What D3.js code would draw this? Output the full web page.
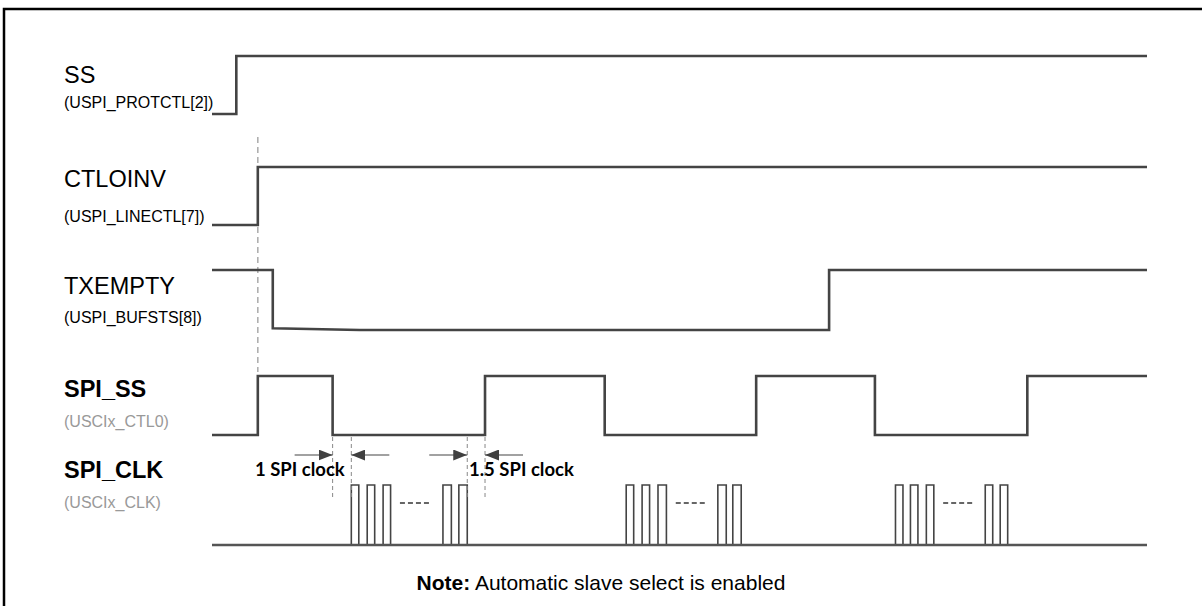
<!DOCTYPE html>
<meta charset="utf-8">
<script src="https://d3js.org/d3.v7.min.js"></script>
<style>
body { margin: 0; background: #fff; }
text { font-family: "Liberation Sans", Arial, sans-serif; }
</style>
<div id="my_dataviz"></div>
<script>

// signal names and register sub-labels
var names = ["SS", "CTLOINV", "TXEMPTY", "SPI_SS", "SPI_CLK"];
var subNames = ["(USPI_PROTCTL[2])", "(USPI_LINECTL[7])", "(USPI_BUFSTS[8])", "(USCIx_CTL0)", "(USCIx_CLK)"];

// waveform edges: [time, level], time on a 0..100 scale
var ssWave = [[0, 0], [2.6, 0], [2.6, 1], [100, 1]];
var ctlWave = [[0, 0], [4.9, 0], [4.9, 1], [100, 1]];
var txWave = [[0, 1], [6.5, 1], [6.5, 0.03], [15.8, 0], [66.0, 0], [66.0, 1], [100, 1]];
var spiSsWave = [[0, 0], [4.9, 0], [4.9, 1], [12.9, 1], [12.9, 0], [29.2, 0], [29.2, 1], [42.0, 1], [42.0, 0],
  [58.2, 0], [58.2, 1], [70.9, 1], [70.9, 0], [87.2, 0], [87.2, 1], [100, 1]];

// clock pulses: [rise, fall]
var clkPulses = [
  [14.9, 15.7], [16.6, 17.4], [18.3, 19.1], [24.7, 25.6], [26.4, 27.3],
  [44.3, 45.1], [46.0, 46.8], [47.7, 48.6], [54.1, 55.0], [55.7, 56.6],
  [73.1, 73.9], [74.7, 75.5], [76.4, 77.2], [82.7, 83.5], [84.3, 85.1]
];
// "----" gaps between pulses: [start, end]
var clkGaps = [[20.1, 23.3], [49.6, 52.9], [78.2, 81.4]];

// timing marks
var markTimes = [12.9, 14.9, 27.3, 29.2];
var markLabels = ["1 SPI clock", "1.5 SPI clock"];
var refTime = 4.9;

var noteBold = "Note:";
var noteText = " Automatic slave select is enabled";

var W = 1202, H = 606;
var svg = d3.select("#my_dataviz").append("svg")
  .attr("width", W).attr("height", H);

// frame
svg.append("rect")
  .attr("x", 4).attr("y", 9).attr("width", 1220).attr("height", 640)
  .attr("fill", "none").attr("stroke", "#000").attr("stroke-width", 2.5);

var x = d3.scaleLinear().domain([0, 100]).range([212, 1147]);

// row layout: low-level y and amplitude
var rowLow = [114, 225, 330, 435, 545];
var amp = [58, 58, 60, 59, 60];
var nameY = [83, 187, 294, 397, 478];
var subY = [108, 222, 323, 427, 508];

function yRow(i) {
  return d3.scaleLinear().domain([0, 1]).range([rowLow[i], rowLow[i] - amp[i]]);
}

// labels
names.forEach(function(n, i) {
  var bold = i >= 3;
  svg.append("text")
    .attr("x", 64).attr("y", nameY[i])
    .style("font-size", "23.5px")
    .style("font-weight", bold ? "bold" : "normal")
    .attr("fill", "#000")
    .text(n);
  svg.append("text")
    .attr("x", 64).attr("y", subY[i])
    .style("font-size", "16px")
    .attr("fill", bold ? "#999" : "#000")
    .text(subNames[i]);
});

// reference dashed line
svg.append("line")
  .attr("x1", x(refTime)).attr("x2", x(refTime))
  .attr("y1", 137).attr("y2", 372)
  .attr("stroke", "#aaa").attr("stroke-width", 1.5)
  .attr("stroke-dasharray", "6,4");

var waves = [ssWave, ctlWave, txWave, spiSsWave];
waves.forEach(function(w, i) {
  var y = yRow(i);
  var line = d3.line()
    .x(function(d) { return x(d[0]); })
    .y(function(d) { return y(d[1]); });
  svg.append("path")
    .datum(w)
    .attr("d", line)
    .attr("fill", "none")
    .attr("stroke", "#444")
    .attr("stroke-width", 2.6);
});

// clock: baseline and pulses
var yc = yRow(4);
var clkPts = [[0, 0]];
clkPulses.forEach(function(p) {
  clkPts.push([p[0], 0], [p[0], 1], [p[1], 1], [p[1], 0]);
});
clkPts.push([100, 0]);
svg.append("path")
  .datum(clkPts)
  .attr("d", d3.line().x(function(d) { return x(d[0]); }).y(function(d) { return yc(d[1]); }))
  .attr("fill", "none")
  .attr("stroke", "#444")
  .attr("stroke-width", 1.6);
// redraw baseline heavier
svg.append("line")
  .attr("x1", x(0)).attr("x2", x(100))
  .attr("y1", yc(0)).attr("y2", yc(0))
  .attr("stroke", "#555").attr("stroke-width", 2.4);

svg.selectAll(".gap")
  .data(clkGaps)
  .enter().append("line")
    .attr("x1", function(d) { return x(d[0]); })
    .attr("x2", function(d) { return x(d[1]); })
    .attr("y1", 503).attr("y2", 503)
    .attr("stroke", "#666").attr("stroke-width", 2.2)
    .attr("stroke-dasharray", "5,3");

// timing marker dashed lines
svg.selectAll(".mark")
  .data(markTimes)
  .enter().append("line")
    .attr("x1", function(d) { return x(d); })
    .attr("x2", function(d) { return x(d); })
    .attr("y1", 437).attr("y2", 500)
    .attr("stroke", "#888").attr("stroke-width", 1)
    .attr("stroke-dasharray", "4,3");

// arrows
svg.append("defs").append("marker")
  .attr("id", "ah").attr("viewBox", "0 0 14 11")
  .attr("refX", 14).attr("refY", 5.5)
  .attr("markerWidth", 14).attr("markerHeight", 11)
  .attr("markerUnits", "userSpaceOnUse")
  .attr("orient", "auto")
  .append("path").attr("d", "M0,0L14,5.5L0,11Z").attr("fill", "#404040");

var arrowLen = 38;
var arrows = [
  [markTimes[0], -1], [markTimes[1], 1], [markTimes[2], -1], [markTimes[3], 1]
];
arrows.forEach(function(a) {
  var xe = x(a[0]);
  svg.append("line")
    .attr("x1", xe + a[1] * arrowLen).attr("x2", xe)
    .attr("y1", 455).attr("y2", 455)
    .attr("stroke", "#444").attr("stroke-width", 1.2)
    .attr("marker-end", "url(#ah)");
});

svg.append("text")
  .attr("x", 255).attr("y", 476)
  .style("font-family", "Lato, 'Open Sans', sans-serif")
  .style("font-weight", "bold").style("font-size", "18.5px")
  .text(markLabels[0]);
svg.append("text")
  .attr("x", 469).attr("y", 476)
  .style("font-family", "Lato, 'Open Sans', sans-serif")
  .style("font-weight", "bold").style("font-size", "18.5px")
  .text(markLabels[1]);

// note
var note = svg.append("text")
  .attr("x", 601).attr("y", 590)
  .attr("text-anchor", "middle")
  .style("font-size", "21px");
note.append("tspan").style("font-weight", "bold").text(noteBold);
note.append("tspan").text(noteText);

</script>
